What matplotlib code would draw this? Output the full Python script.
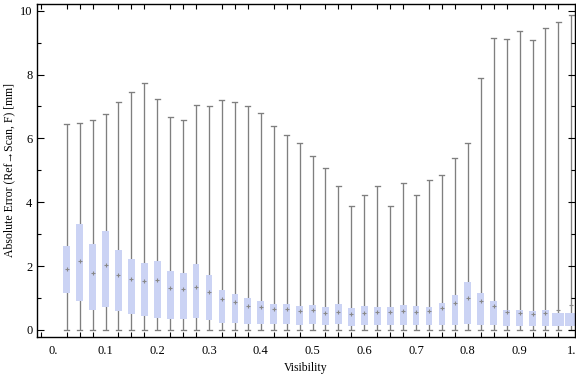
import matplotlib
matplotlib.use("Agg")
import matplotlib.pyplot as plt
import numpy as np
from matplotlib.ticker import MultipleLocator, FixedLocator

visibility = [round(0.025 * i, 3) for i in range(1, 41)]
q1 = [1.17, 0.92, 0.64, 0.73, 0.61, 0.51, 0.43, 0.39, 0.35, 0.35,
      0.39, 0.31, 0.23, 0.23, 0.19, 0.20, 0.20, 0.18, 0.17, 0.20,
      0.17, 0.18, 0.14, 0.17, 0.17, 0.17, 0.17, 0.17, 0.17, 0.17,
      0.17, 0.19, 0.17, 0.17, 0.14, 0.14, 0.14, 0.14, 0.14, 0.14]
q3 = [2.63, 3.32, 2.69, 3.09, 2.51, 2.22, 2.10, 2.16, 1.85, 1.77,
      2.07, 1.72, 1.25, 1.13, 1.00, 0.91, 0.81, 0.81, 0.75, 0.78,
      0.72, 0.80, 0.69, 0.75, 0.72, 0.72, 0.78, 0.75, 0.72, 0.85,
      1.10, 1.50, 1.16, 0.91, 0.63, 0.63, 0.60, 0.63, 0.53, 0.53]
center = [1.91, 2.15, 1.79, 2.03, 1.71, 1.59, 1.53, 1.56, 1.33, 1.27,
          1.36, 1.18, 0.97, 0.88, 0.75, 0.72, 0.65, 0.65, 0.60, 0.62,
          0.52, 0.57, 0.51, 0.54, 0.57, 0.55, 0.61, 0.56, 0.60, 0.68,
          0.84, 0.99, 0.92, 0.76, 0.55, 0.52, 0.50, 0.54, 0.62, 0.78]
vmax = [6.44, 6.47, 6.57, 6.76, 7.13, 7.44, 7.73, 7.22, 6.66, 6.57,
        7.04, 7.00, 7.20, 7.15, 7.00, 6.80, 6.40, 6.10, 5.85, 5.45,
        5.07, 4.51, 3.88, 4.22, 4.51, 3.88, 4.59, 4.22, 4.70, 4.85,
        5.40, 5.85, 7.88, 9.14, 9.11, 9.36, 9.07, 9.45, 9.64, 9.87]
vmin = [0.0] * 40
box_w = [0.013] * 38 + [0.023, 0.023]

xtick_vals = [0.0, 0.1, 0.2, 0.3, 0.4, 0.5, 0.6, 0.7, 0.8, 0.9, 1.0]
xtick_labels = ["0.", "0.1", "0.2", "0.3", "0.4", "0.5", "0.6", "0.7", "0.8", "0.9", "1."]
ytick_vals = [0, 2, 4, 6, 8, 10]

serif = ["Liberation Serif", "DejaVu Serif"]
plt.rcParams["font.family"] = serif
plt.rcParams["font.size"] = 9

fig = plt.figure(figsize=(5.76, 3.77), dpi=100)
ax = fig.add_axes([36.5 / 576, 1 - 336.5 / 377, (575 - 36.5) / 576, (336.5 - 4) / 377])

wcol = "#7f7f7f"
bcol = "#cbd3f4"
cap = 0.0048
for x, a, b, c, lo, hi, w in zip(visibility, q1, q3, center, vmin, vmax, box_w):
    ax.plot([x, x], [lo, hi], color=wcol, lw=0.95, zorder=1, solid_capstyle="butt")
    ax.plot([x - cap, x + cap], [lo, lo], color=wcol, lw=0.95, zorder=1)
    ax.plot([x - cap, x + cap], [hi, hi], color=wcol, lw=0.95, zorder=1)
    ax.bar(x, b - a, bottom=a, width=w, color=bcol, edgecolor="none", zorder=2)
    ax.plot([x], [c], marker="+", ms=3, mew=0.8, color="#888888", zorder=3)

ax.set_xlim(-0.0333, 1.007)
ax.set_ylim(-0.204, 10.21)

ax.xaxis.set_major_locator(FixedLocator(xtick_vals))
ax.set_xticklabels(xtick_labels)
ax.xaxis.set_minor_locator(MultipleLocator(0.025))
ax.yaxis.set_major_locator(FixedLocator(ytick_vals))
ax.set_yticklabels([str(v) for v in ytick_vals])
ax.yaxis.set_minor_locator(MultipleLocator(1))

ax.tick_params(axis="x", which="major", direction="in", length=0, pad=6,
               top=True, labelsize=9)
ax.tick_params(axis="x", which="minor", direction="in", length=3.5, width=0.8,
               top=True)
ax.tick_params(axis="y", which="major", direction="in", length=5, width=0.8,
               right=True, pad=3, labelsize=9)
ax.tick_params(axis="y", which="minor", direction="in", length=3, width=0.8,
               right=True)
for s in ax.spines.values():
    s.set_linewidth(1.0)

ax.set_xlabel("Visibility", fontsize=8.5, labelpad=4)
ax.set_ylabel("Absolute Error (Ref\u2192Scan, F) [mm]", fontsize=8.5, labelpad=3)

fig.savefig("out.png", dpi=100)
